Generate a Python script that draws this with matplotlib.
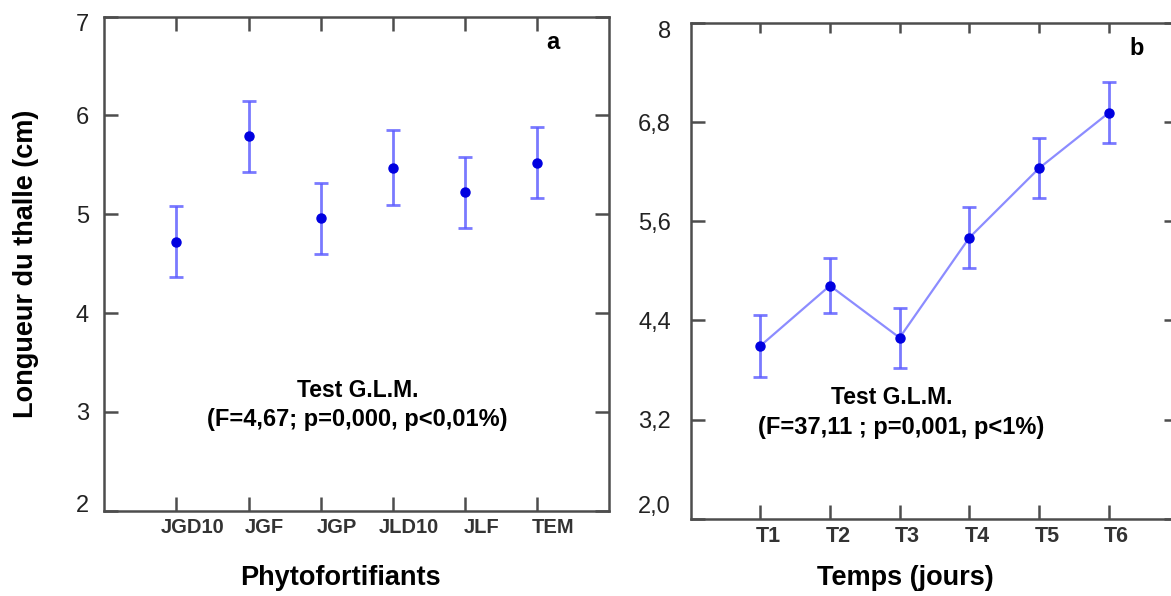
import matplotlib
matplotlib.use("Agg")
import matplotlib.pyplot as plt
from matplotlib.transforms import ScaledTranslation

plt.rcParams['font.family'] = ['Liberation Sans', 'DejaVu Sans']

# panel a : longueur du thalle par phytofortifiant
phyto = ['JGD10', 'JGF', 'JGP', 'JLD10', 'JLF', 'TEM']
long_a = [4.72, 5.79, 4.96, 5.47, 5.22, 5.52]
err_a = [0.36, 0.36, 0.36, 0.38, 0.36, 0.36]

# panel b : longueur du thalle dans le temps
temps = ['T1', 'T2', 'T3', 'T4', 'T5', 'T6']
long_b = [4.09, 4.82, 4.19, 5.40, 6.24, 6.91]
err_b = [0.37, 0.335, 0.365, 0.37, 0.365, 0.37]

yticks_a = [2, 3, 4, 5, 6, 7]
yticks_b = [2.0, 3.2, 4.4, 5.6, 6.8, 8.0]
ylabels_b = ['2,0', '3,2', '4,4', '5,6', '6,8', '8']

bar_col = (0.35, 0.35, 1.0, 0.8)
dot_col = '#0000e0'
line_col = '#8c8cff'
spine_col = '#4d4d4d'

fig = plt.figure(figsize=(11.71, 5.96), dpi=100)
ax_a = fig.add_axes([0.0891, 0.1431, 0.4313, 0.8292])
ax_b = fig.add_axes([0.5897, 0.1297, 0.4166, 0.8320])


def px(dx, dy):
    return ScaledTranslation(dx / 100, dy / 100, fig.dpi_scale_trans)


def style(ax, xlab_pad, ylab_pad, tick_fs):
    for s in ax.spines.values():
        s.set_color(spine_col)
        s.set_linewidth(1.8)
    ax.tick_params(direction='in', length=10, width=1.8, color=spine_col,
                   top=True, right=True)
    ax.tick_params(axis='x', pad=xlab_pad, labelsize=tick_fs, labelcolor='#333333')
    ax.tick_params(axis='y', pad=ylab_pad, labelsize=17, labelcolor='#222222')
    for lab in ax.get_xticklabels():
        lab.set_fontweight('bold')


x_a = range(1, len(phyto) + 1)
ax_a.errorbar(x_a, long_a, yerr=err_a, fmt='none', ecolor=bar_col,
              elinewidth=2, capsize=5, capthick=2)
ax_a.plot(x_a, long_a, 'o', color=dot_col, ms=6.5)
ax_a.set_xlim(0, 7)
ax_a.set_ylim(2, 7)
ax_a.set_xticks(list(x_a), phyto)
ax_a.set_yticks(yticks_a, [str(v) for v in yticks_a])
style(ax_a, 5, 11, 14.5)
for lab in ax_a.get_xticklabels():
    lab.set_transform(lab.get_transform() + px(16, 0))
ylabs = ax_a.get_yticklabels()
ylabs[0].set_transform(ylabs[0].get_transform() + px(0, 7))
ylabs[-1].set_transform(ylabs[-1].get_transform() + px(0, -6))

ax_a.set_xlabel('Phytofortifiants', fontsize=19.5, fontweight='bold')
ax_a.xaxis.set_label_coords(0.467, -0.136)
ax_a.xaxis.label.set_va('center')
ax_a.set_ylabel('Longueur du thalle (cm)', fontsize=19.5, fontweight='bold')
ax_a.yaxis.set_label_coords(-0.155, 0.5)
ax_a.yaxis.label.set_va('center')

ax_a.text(3.51, 3.22, 'Test G.L.M.', ha='center', va='center',
          fontsize=16.5, fontweight='bold')
ax_a.text(3.50, 2.92, '(F=4,67; p=0,000, p<0,01%)', ha='center', va='center',
          fontsize=17, fontweight='bold')
ax_a.text(6.21, 6.74, 'a', ha='center', va='center', fontsize=17, fontweight='bold')

x_b = range(1, len(temps) + 1)
ax_b.plot(x_b, long_b, '-', color=line_col, lw=1.6)
ax_b.errorbar(x_b, long_b, yerr=err_b, fmt='none', ecolor=bar_col,
              elinewidth=2, capsize=5, capthick=2)
ax_b.plot(x_b, long_b, 'o', color=dot_col, ms=6.5)
ax_b.set_xlim(0, 7)
ax_b.set_ylim(2, 8)
ax_b.set_xticks(list(x_b), temps)
ax_b.set_yticks(yticks_b, ylabels_b)
style(ax_b, 5, 14, 15.5)
for t in ax_b.xaxis.get_major_ticks():
    t.tick2line.set_markersize(7)
for lab in ax_b.get_xticklabels():
    lab.set_transform(lab.get_transform() + px(8, 0))
ylabs = ax_b.get_yticklabels()
ylabs[0].set_transform(ylabs[0].get_transform() + px(0, 14))
ylabs[-1].set_transform(ylabs[-1].get_transform() + px(0, -7))

ax_b.set_xlabel('Temps (jours)', fontsize=19.5, fontweight='bold')
ax_b.xaxis.set_label_coords(0.440, -0.120)
ax_b.xaxis.label.set_va('center')

ax_b.text(2.89, 3.467, 'Test G.L.M.', ha='center', va='center',
          fontsize=16.5, fontweight='bold')
ax_b.text(3.02, 3.105, '(F=37,11 ; p=0,001, p<1%)', ha='center', va='center',
          fontsize=17, fontweight='bold')
ax_b.text(6.40, 7.685, 'b', ha='center', va='center', fontsize=17, fontweight='bold')

fig.savefig('out.png', dpi=100)
